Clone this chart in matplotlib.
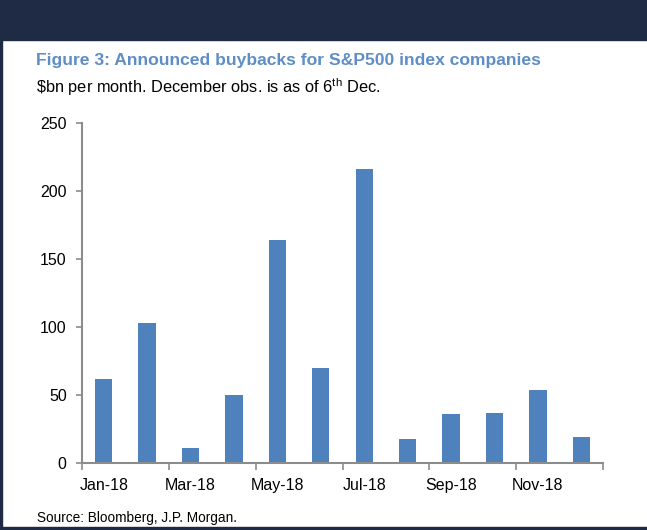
import matplotlib.pyplot as plt
import matplotlib.patches as patches

plt.rcParams['font.family'] = ['Liberation Sans', 'DejaVu Sans']
plt.rcParams['mathtext.fontset'] = 'custom'
plt.rcParams['mathtext.rm'] = 'Liberation Sans'

# Monthly announced buybacks, $bn (Jan-18 .. Dec-18)
months = ['Jan-18', 'Feb-18', 'Mar-18', 'Apr-18', 'May-18', 'Jun-18',
          'Jul-18', 'Aug-18', 'Sep-18', 'Oct-18', 'Nov-18', 'Dec-18']
buybacks = [62, 103, 11, 50, 164, 70, 216, 18, 36, 37, 54, 19]
yticks = [0, 50, 100, 150, 200, 250]

W, H = 647, 530
fig = plt.figure(figsize=(W / 100, H / 100), dpi=100)
fig.patch.set_facecolor('white')

# dark page frame around the white panel
navy = '#1f2a44'
fig.patches.append(patches.Rectangle((0, 1 - 40 / H), 1, 40 / H, transform=fig.transFigure,
                                     color=navy, zorder=0))
fig.patches.append(patches.Rectangle((0, 0), 1, 3 / H, transform=fig.transFigure,
                                     color=navy, zorder=0))
fig.patches.append(patches.Rectangle((0, 0), 2 / W, 1, transform=fig.transFigure,
                                     color=navy, zorder=0))

ax = fig.add_axes([82 / W, (H - 463) / H, 521 / W, 340 / H])
x = list(range(len(months)))
ax.bar(x, buybacks, width=0.4, color='#4f81bd', zorder=2)

ax.set_xlim(-0.5, len(months) - 0.5)
ax.set_ylim(0, 250)
ax.set_yticks(yticks)

# ticks at every second month boundary, labels on bars
ax.set_xticks([i - 0.5 for i in range(0, len(months) + 1, 2)])
ax.set_xticklabels([])
ax.set_xticks(x[::2], minor=True)
ax.set_xticklabels(months[::2], minor=True)
ax.tick_params(axis='x', which='minor', length=0, pad=11, labelsize=11.5)
ax.tick_params(axis='x', which='major', length=5, direction='out', color='#8c8c8c', width=1.2)
ax.tick_params(axis='y', length=4, direction='out', color='#8c8c8c', width=1.2, pad=7,
               labelsize=11.5)

for s in ['top', 'right']:
    ax.spines[s].set_visible(False)
for s in ['left', 'bottom']:
    ax.spines[s].set_color('#8c8c8c')
    ax.spines[s].set_linewidth(1.5)

fig.text(36 / W, 1 - 61 / H, 'Figure 3: Announced buybacks for S&P500 index companies',
         color='#5f8dc5', fontsize=12.6, fontweight='bold', va='center', ha='left')
fig.text(36 / W, 1 - 87 / H, r'\$bn per month. December obs. is as of 6$^{\mathrm{th}}$ Dec.',
         color='black', fontsize=11.8, va='center', ha='left')
fig.text(37 / W, 1 - 518 / H, 'Source: Bloomberg, J.P. Morgan.',
         color='black', fontsize=9.8, va='center', ha='left')

fig.savefig('out.png', dpi=100)
